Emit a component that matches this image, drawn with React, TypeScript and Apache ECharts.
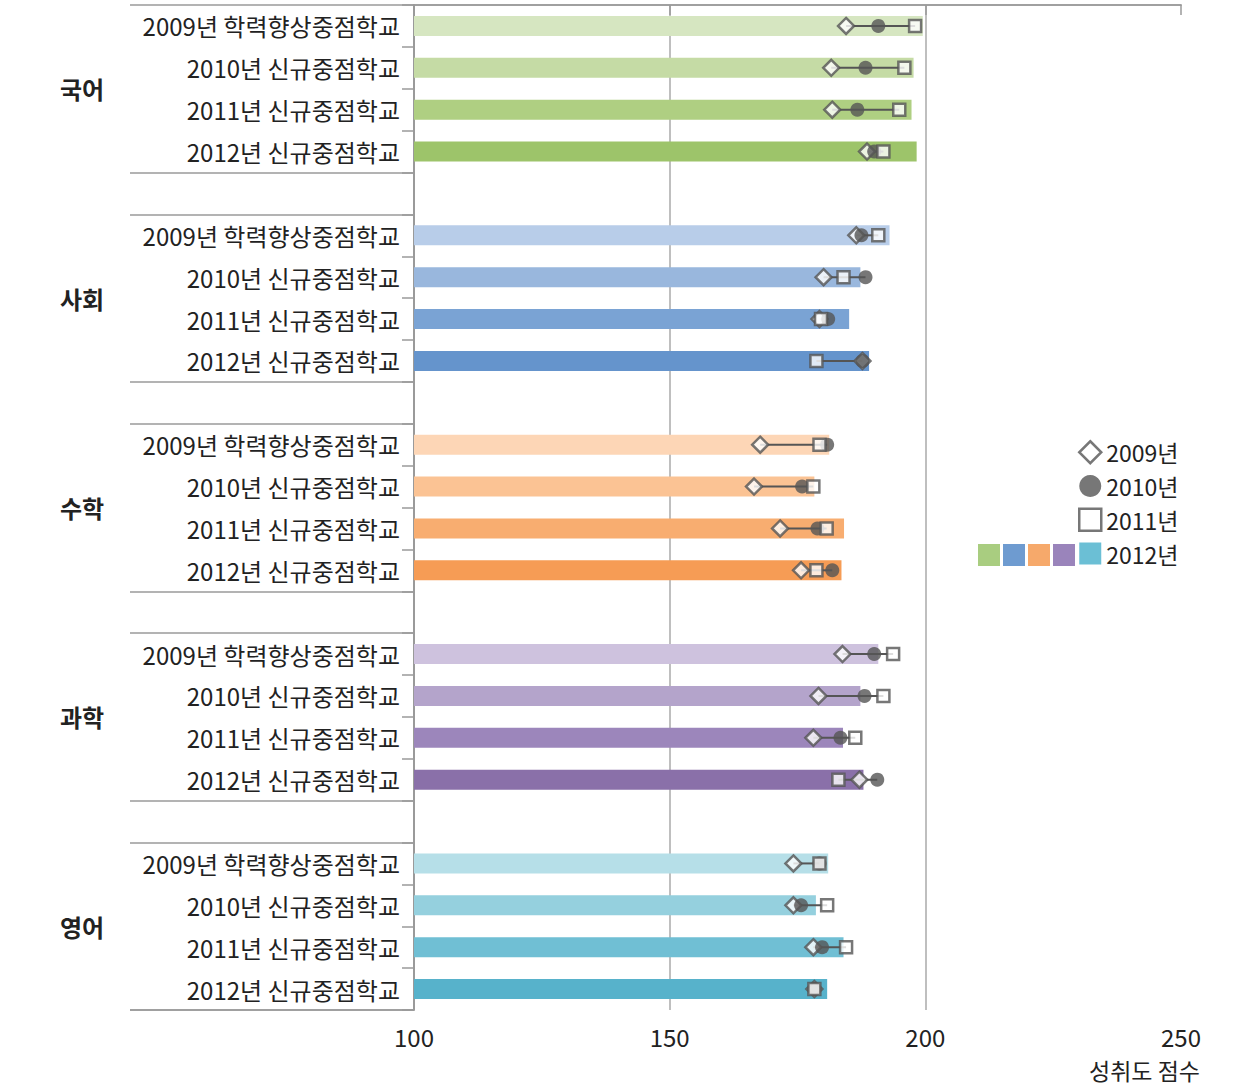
import React, { useEffect, useRef } from "react";
import * as echarts from "echarts";

const groups = ["국어", "사회", "수학", "과학", "영어"];
const rowLabels = [
  "2009년 학력향상중점학교",
  "2010년 신규중점학교",
  "2011년 신규중점학교",
  "2012년 신규중점학교",
];

// 2012 bar values per group (rows: 2009학력향상, 2010신규, 2011신규, 2012신규)
const bar2012 = [
  [199.5, 197.7, 197.3, 198.3],
  [193.0, 187.3, 185.1, 189.0],
  [181.2, 178.3, 184.1, 183.6],
  [190.8, 187.3, 183.9, 187.9],
  [181.0, 178.6, 184.0, 180.8],
];
const score2009 = [
  [184.5, 181.6, 181.8, 188.6],
  [186.5, 180.1, 179.3, 187.7],
  [167.7, 166.5, 171.6, 175.7],
  [183.8, 179.1, 178.1, 187.1],
  [174.2, 174.2, 178.1, 178.3],
];
const score2010 = [
  [190.8, 188.3, 186.7, 190.0],
  [187.5, 188.3, 181.0, 187.7],
  [180.8, 175.9, 178.9, 181.8],
  [190.0, 188.1, 183.4, 190.6],
  [179.3, 175.7, 179.8, 178.3],
];
const score2011 = [
  [198.0, 195.9, 194.9, 191.8],
  [190.8, 184.0, 179.6, 178.7],
  [179.3, 178.1, 180.7, 178.7],
  [193.7, 191.8, 186.3, 183.0],
  [179.3, 180.8, 184.5, 178.3],
];

const barShades = [
  ["#d6e6c1", "#c5dba5", "#afcf82", "#9dc46a"],
  ["#b8cde9", "#99b7dd", "#7aa3d4", "#6594cc"],
  ["#fdd6b6", "#fbc394", "#f8ad70", "#f69c55"],
  ["#cec2de", "#b4a4cb", "#9c86bb", "#8a70a9"],
  ["#b6dfe8", "#95d0de", "#70bfd4", "#57b2cb"],
];
const legendSwatches = ["#a9cd80", "#6e9bd0", "#f6a96b", "#9a84bb", "#6bbfd5"];

const xTicks = { min: 100, max: 250, interval: 50 };
const axisName = "성취도 점수";

const FONT = '"Noto Sans CJK KR", "Noto Sans", sans-serif';
const MARK = "#555555";
const AXIS = "#9a9a9a";

export default function App() {
  const ref = useRef<HTMLDivElement>(null);

  useEffect(() => {
    if (!ref.current) return;
    const chart = echarts.init(ref.current, undefined, { renderer: "svg" });

    const categories: string[] = [];
    const barData: any[] = [];
    const d09: number[][] = [];
    const d10: number[][] = [];
    const d11: number[][] = [];
    const links: number[][] = [];
    groups.forEach((g, gi) => {
      rowLabels.forEach((lab, ri) => {
        const idx = categories.length;
        categories.push(lab);
        barData.push({ value: bar2012[gi][ri], itemStyle: { color: barShades[gi][ri] } });
        const a = score2009[gi][ri];
        const b = score2010[gi][ri];
        const c = score2011[gi][ri];
        d09.push([a, idx]);
        d10.push([b, idx]);
        d11.push([c, idx]);
        links.push([Math.min(a, b, c), Math.max(a, b, c), idx]);
      });
      if (gi < groups.length - 1) {
        categories.push("");
        barData.push("-");
      }
    });
    const n = categories.length;
    const groupBounds: number[] = [];
    const groupCenters: number[] = [];
    groups.forEach((_, gi) => {
      groupBounds.push(gi * 5, gi * 5 + 4);
      groupCenters.push(gi * 5 + 2);
    });

    const lineStyle = { color: AXIS, width: 1.5 };

    chart.setOption({
      animation: false,
      textStyle: { fontFamily: FONT },
      grid: { left: 414, right: 59, top: 5, bottom: 75 },
      xAxis: [
        {
          type: "value",
          min: xTicks.min,
          max: xTicks.max,
          interval: xTicks.interval,
          position: "bottom",
          axisLine: { show: true, lineStyle },
          axisTick: { show: true, length: 10, lineStyle },
          axisLabel: { fontSize: 24, color: "#222", margin: 14, fontFamily: FONT },
          splitLine: {
            show: true,
            showMinLine: false,
            showMaxLine: false,
            lineStyle: { color: "#aaaaaa", width: 1.5 },
          },
        },
        {
          type: "value",
          min: xTicks.min,
          max: xTicks.max,
          position: "top",
          axisLine: { show: true, lineStyle },
          axisTick: { show: false },
          axisLabel: { show: false },
          splitLine: { show: false },
        },
      ],
      yAxis: [
        {
          type: "category",
          data: categories,
          inverse: true,
          axisLine: { show: true, lineStyle: { color: AXIS, width: 2 } },
          axisTick: { show: true, length: 12, lineStyle },
          axisLabel: { fontSize: 24, color: "#222", margin: 14, interval: 0, fontFamily: FONT },
          splitLine: { show: false },
        },
        {
          type: "value",
          min: 0,
          max: n,
          inverse: true,
          position: "left",
          offset: 0,
          axisLine: { show: false },
          axisTick: { show: true, customValues: groupBounds.concat([n]), length: 284, lineStyle },
          axisLabel: {
            show: true,
            customValues: groupCenters,
            formatter: (v: number) => groups[Math.round((v - 2) / 5)] || "",
            align: "center",
            margin: 332,
            fontSize: 24,
            fontWeight: "bold",
            color: "#222",
            fontFamily: FONT,
          },
          splitLine: { show: false },
        },
      ],
      legend: {
        orient: "vertical",
        left: 1078,
        top: 440,
        padding: 0,
        itemWidth: 22,
        itemHeight: 22,
        itemGap: 10,
        selectedMode: false,
        textStyle: { fontSize: 23, color: "#222", fontFamily: FONT },
        data: [
          { name: "2009년", icon: "diamond", itemStyle: { color: "#fff", borderColor: MARK, borderWidth: 2.5 } },
          { name: "2010년", icon: "circle", itemStyle: { color: MARK, borderWidth: 0 } },
          { name: "2011년", icon: "rect", itemStyle: { color: "#fff", borderColor: MARK, borderWidth: 2.5 } },
          { name: "2012년", icon: "rect", itemStyle: { color: legendSwatches[4], borderWidth: 0 } },
        ],
      },
      graphic: [
        ...legendSwatches.slice(0, 4).map((c, i) => ({
          type: "rect",
          left: 978 + i * 25,
          top: 544,
          shape: { width: 22, height: 22 },
          style: { fill: c },
        })),
        {
          type: "text",
          right: 40,
          top: 1058,
          style: {
            text: axisName,
            font: `23px ${FONT}`,
            fill: "#222",
          },
        },
      ],
      series: [
        {
          type: "bar",
          name: "2012년",
          xAxisIndex: 0,
          yAxisIndex: 0,
          data: barData,
          barWidth: 20,
          itemStyle: { color: legendSwatches[4] },
          z: 1,
        },
        {
          type: "custom",
          name: "links",
          xAxisIndex: 0,
          yAxisIndex: 0,
          data: links,
          encode: { x: [0, 1], y: 2 },
          renderItem: (params: any, api: any) => {
            const y = api.value(2);
            const p1 = api.coord([api.value(0), y]);
            const p2 = api.coord([api.value(1), y]);
            return {
              type: "line",
              shape: { x1: p1[0], y1: p1[1], x2: p2[0], y2: p2[1] },
              style: { stroke: MARK, lineWidth: 2 },
            };
          },
          z: 2,
        },
        {
          type: "scatter",
          name: "2009년",
          xAxisIndex: 0,
          yAxisIndex: 0,
          data: d09,
          symbol: "diamond",
          symbolSize: 16,
          itemStyle: { color: "#fff", borderColor: MARK, borderWidth: 2.5 },
          z: 3,
        },
        {
          type: "scatter",
          name: "2010년",
          xAxisIndex: 0,
          yAxisIndex: 0,
          data: d10,
          symbol: "circle",
          symbolSize: 14,
          itemStyle: { color: MARK },
          z: 4,
        },
        {
          type: "scatter",
          name: "2011년",
          xAxisIndex: 0,
          yAxisIndex: 0,
          data: d11,
          symbol: "rect",
          symbolSize: 12,
          itemStyle: { color: "#fff", borderColor: MARK, borderWidth: 2.5 },
          z: 5,
        },
      ],
    });

    return () => chart.dispose();
  }, []);

  return (
    <div
      ref={ref}
      style={{ position: "absolute", left: 0, top: 0, width: 1240, height: 1085, background: "#fff" }}
    />
  );
}
